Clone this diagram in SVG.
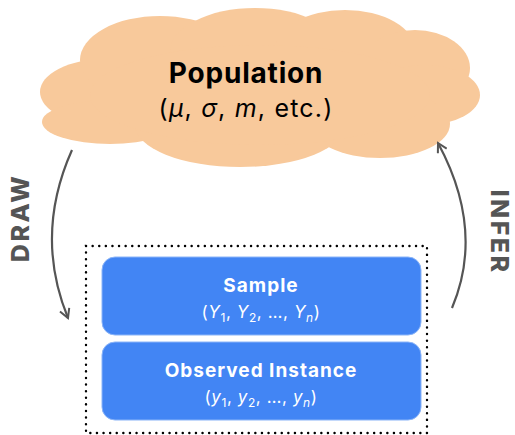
<svg xmlns="http://www.w3.org/2000/svg" width="515" height="435" viewBox="0 0 515 435">
  <style>
    .title { font-family: Inter, "Open Sans", sans-serif; font-weight: 700; }
    .sub { font-family: Inter, "Open Sans", sans-serif; font-weight: 400; }
    .it { font-style: italic; }
    .box { fill: #4285F4; stroke: #8AB4F8; stroke-width: 1; }
    .cloud { fill: #F8C99B; }
    .arrow { fill: none; stroke: #555555; stroke-width: 2.2; marker-end: url(#head); }
    .verb { font-family: Inter, "Open Sans", sans-serif; font-weight: 800; font-size: 25px; fill: #555555; letter-spacing: 2.5px; }
  </style>
  <defs>
    <marker id="head" viewBox="0 0 12 12" refX="10" refY="6" markerWidth="12" markerHeight="12" markerUnits="userSpaceOnUse" orient="auto">
      <path d="M1,1 L10,6 L1,11" fill="none" stroke="#555555" stroke-width="2" stroke-linejoin="miter"/>
    </marker>
  </defs>

  <!-- population cloud -->
  <g id="population">
    <g class="cloud">
      <ellipse cx="105" cy="92" rx="65" ry="33"/>
      <ellipse cx="110" cy="122" rx="68" ry="22"/>
      <ellipse cx="160" cy="60" rx="80" ry="44"/>
      <ellipse cx="255" cy="52" rx="85" ry="44"/>
      <ellipse cx="345" cy="50" rx="70" ry="40"/>
      <ellipse cx="415" cy="68" rx="55" ry="38"/>
      <ellipse cx="425" cy="95" rx="55" ry="30"/>
      <ellipse cx="380" cy="124" rx="70" ry="34"/>
      <ellipse cx="240" cy="125" rx="105" ry="42"/>
      <ellipse cx="260" cy="95" rx="170" ry="50"/>
    </g>
    <text class="title" x="246" y="83" font-size="28" letter-spacing="0.8" text-anchor="middle" fill="#000">Population</text>
    <text class="sub" x="246" y="117" font-size="25" letter-spacing="1.2" text-anchor="middle" fill="#000">(<tspan class="it">μ</tspan>, <tspan class="it">σ</tspan>, <tspan class="it">m</tspan>, etc.)</text>
  </g>

  <!-- dotted frame around the sample boxes -->
  <rect x="86" y="246" width="341" height="187" fill="none" stroke="#000" stroke-width="2.4" stroke-linecap="round" stroke-dasharray="0.1 6.5"/>

  <g id="sample">
    <rect class="box" x="102" y="257" width="319" height="78" rx="13"/>
    <text class="title" x="261" y="292" font-size="19" letter-spacing="1" text-anchor="middle" fill="#fff">Sample</text>
    <text class="sub" x="261" y="318" font-size="17" letter-spacing="0.6" text-anchor="middle" fill="#fff">(<tspan class="it">Y</tspan><tspan font-size="12" dy="4">1</tspan><tspan dy="-4">, </tspan><tspan class="it">Y</tspan><tspan font-size="12" dy="4">2</tspan><tspan dy="-4">, …, </tspan><tspan class="it">Y</tspan><tspan class="it" font-size="12" dy="4">n</tspan><tspan dy="-4">)</tspan></text>
  </g>

  <g id="observed">
    <rect class="box" x="102" y="342" width="319" height="78" rx="13"/>
    <text class="title" x="261" y="377" font-size="19" letter-spacing="1" text-anchor="middle" fill="#fff">Observed Instance</text>
    <text class="sub" x="261" y="403" font-size="17" letter-spacing="0.6" text-anchor="middle" fill="#fff">(<tspan class="it">y</tspan><tspan font-size="12" dy="4">1</tspan><tspan dy="-4">, </tspan><tspan class="it">y</tspan><tspan font-size="12" dy="4">2</tspan><tspan dy="-4">, …, </tspan><tspan class="it">y</tspan><tspan class="it" font-size="12" dy="4">n</tspan><tspan dy="-4">)</tspan></text>
  </g>

  <!-- connectors -->
  <g id="connectors">
    <path class="arrow" d="M72,150 Q34,235 68,318"/>
    <path class="arrow" d="M452,308 Q485,230 438,143"/>
  </g>

  <g id="labels">
    <text class="verb" transform="translate(29,218) rotate(-90)" text-anchor="middle">DRAW</text>
    <text class="verb" transform="translate(491,232) rotate(90)" text-anchor="middle">INFER</text>
  </g>
</svg>
